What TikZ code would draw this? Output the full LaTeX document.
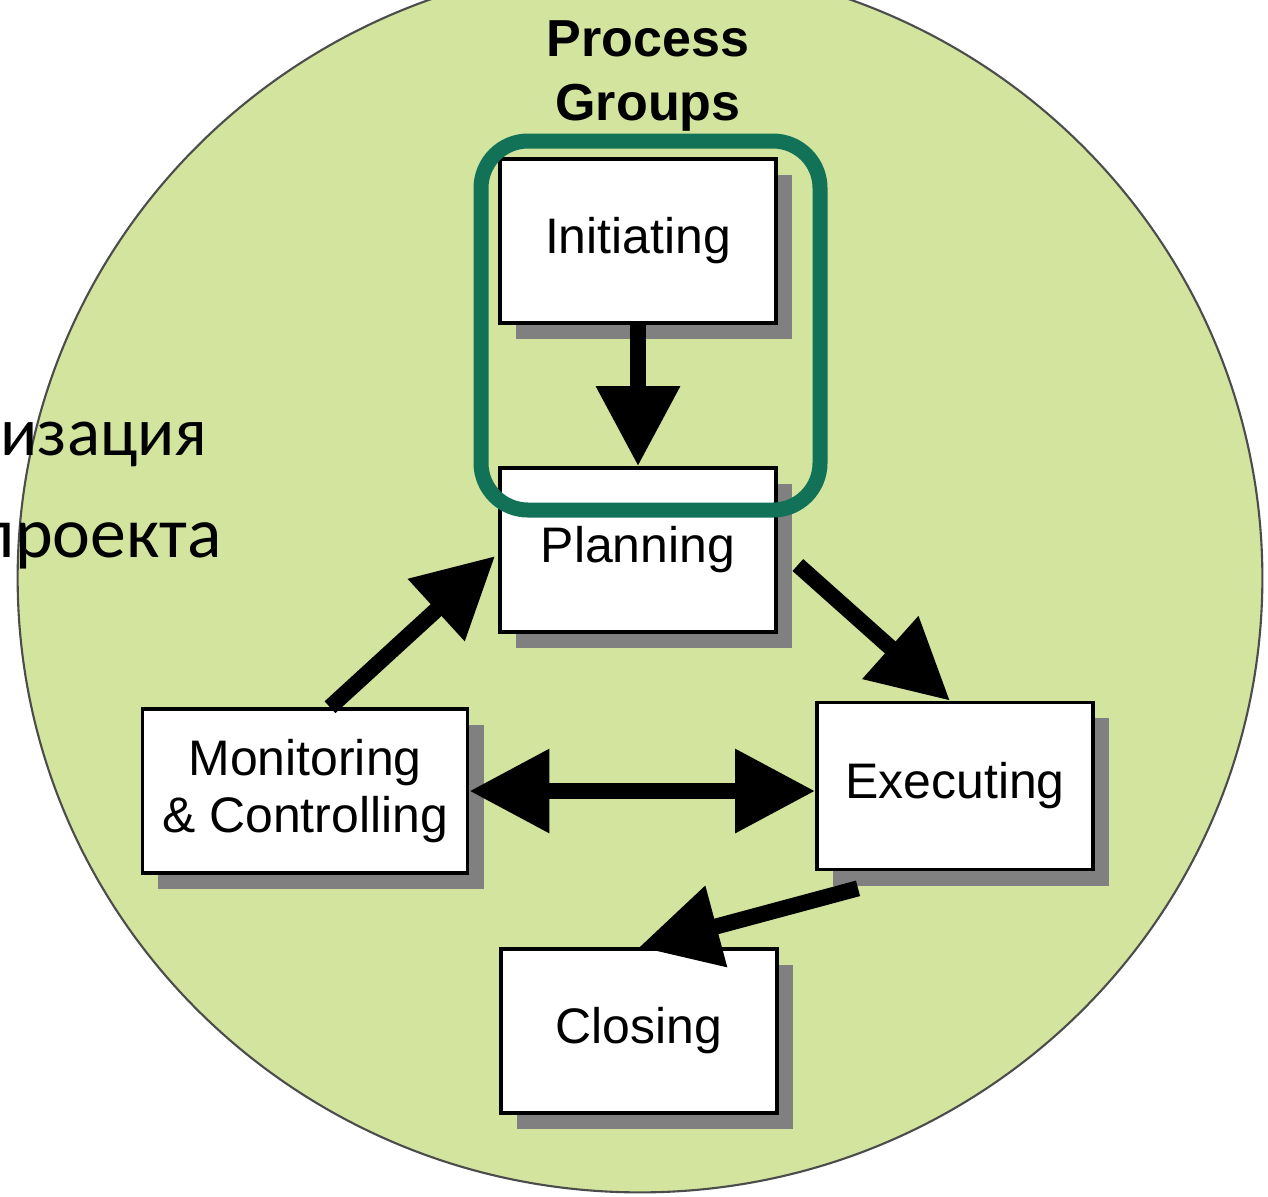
\documentclass[tikz,border=0pt]{standalone}
\usepackage{fontspec}
\setmainfont{Liberation Sans}
\newfontfamily\rufont{Carlito}
\usetikzlibrary{arrows.meta,shadows}
\definecolor{circlegreen}{RGB}{210,228,158}
\definecolor{framegreen}{RGB}{17,114,88}
\definecolor{shadowgray}{RGB}{128,128,128}

\begin{document}
\begin{tikzpicture}[x=0.01cm, y=-0.01cm,
        procbox/.style={draw=black, line width=1pt, fill=white, inner sep=0pt,
            minimum width=2.76cm, minimum height=1.64cm, align=center,
            font=\fontsize{14.2}{16.4}\selectfont,
            drop shadow={shadow xshift=0.16cm, shadow yshift=-0.16cm, fill=shadowgray, opacity=1}},
        flow/.style={line width=0.16cm, -{Triangle[length=0.8cm, width=0.8cm]}},
        flowboth/.style={line width=0.16cm, {Triangle[length=0.8cm, width=0.8cm]}-{Triangle[length=0.8cm, width=0.8cm]}}]
        \useasboundingbox (0,0) rectangle (1268,1196);
        \clip (0,0) rectangle (1268,1196);
        % Background disc
        \filldraw[fill=circlegreen, draw=black!70, line width=0.6pt] (640,578) ellipse [x radius=6.22cm, y radius=6.14cm];
        \node[font=\bfseries\fontsize{14.8}{18.2}\selectfont, align=center] (title) at (648,76) {Process\\Groups};
        % Process group boxes
        \node[procbox] (init) at (638,241) {Initiating};
        \node[procbox] (plan) at (638,550) {Planning};
        \node[procbox, minimum width=3.25cm] (monit) at (305,791) {Monitoring\\\& Controlling};
        \node[procbox, minimum height=1.67cm] (exec) at (955,786) {Executing};
        \node[procbox] (close) at (639,1031) {Closing};
        % Flow between the groups
        \draw[flow] (init.south) -- (plan.north);
        \draw[flow] ([shift={(25,0)}]monit.north) -- ([shift={(-3,6)}]plan.west);
        \draw[flow] ([shift={(20,15)}]plan.east) -- ([shift={(-5,0)}]exec.north);
        \draw[flowboth] (monit.east) -- (monit.east -| exec.west);
        \draw[flow] ([shift={(-97,17)}]exec.south) -- (close.north);
        % Highlight frame
        \draw[framegreen, line width=0.15cm, rounded corners=0.47cm] (481,141) rectangle (820,510);
        % Slide text on the left
        \node[anchor=base west, inner sep=0pt, font=\rufont\fontsize{19.6}{23}\selectfont] (orgline) at (0,455) {изация};
        \node[anchor=base west, inner sep=0pt, font=\rufont\fontsize{20.4}{23}\selectfont] (projline) at (-23,557) {проекта};
\end{tikzpicture}
\end{document}
